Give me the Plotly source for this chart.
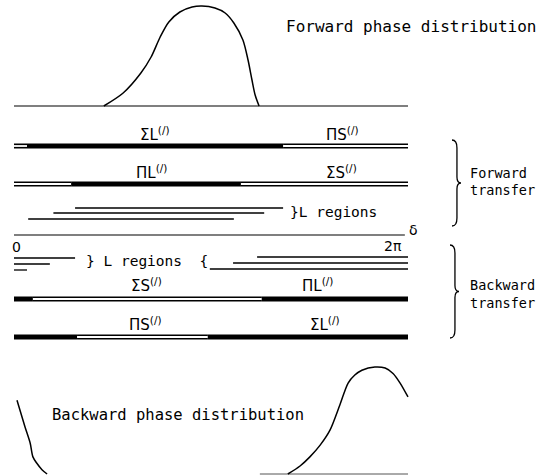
import numpy as np
import plotly.graph_objects as go

# ---------------- data (phase as fraction of 2*pi) ----------------
fwd_phase = [0.228, 0.277, 0.322, 0.348, 0.371, 0.393, 0.421, 0.452, 0.477,
             0.510, 0.536, 0.558, 0.581, 0.594, 0.604, 0.612, 0.622]
fwd_height = [0.0, 0.13, 0.33, 0.49, 0.69, 0.84, 0.94, 0.99, 1.0,
              0.98, 0.93, 0.83, 0.66, 0.46, 0.26, 0.11, 0.0]

bwd_left_phase = [0.0076, 0.028, 0.041, 0.048, 0.058, 0.071, 0.084]
bwd_left_height = [0.69, 0.44, 0.29, 0.16, 0.10, 0.04, 0.0]
bwd_right_phase = [0.695, 0.726, 0.751, 0.777, 0.802, 0.827, 0.848, 0.865,
                   0.883, 0.916, 0.942, 0.962, 0.980, 1.0]
bwd_right_height = [0.0, 0.075, 0.16, 0.27, 0.41, 0.645, 0.85, 0.925,
                    0.97, 1.0, 0.99, 0.94, 0.85, 0.72]

# transfer rows: boundaries and style of each segment ("full" / "hollow")
row_bounds = [
    [0.0, 0.033, 0.683, 1.0],   # Sigma L / Pi S  (forward)
    [0.0, 0.145, 0.576, 1.0],   # Pi L / Sigma S  (forward)
    [0.0, 0.048, 0.629, 1.0],   # Sigma S / Pi L  (backward)
    [0.0, 0.160, 0.492, 1.0],   # Pi S / Sigma L  (backward)
]
row_styles = [
    ["hollow", "full", "hollow"],
    ["hollow", "full", "hollow"],
    ["full", "hollow", "full"],
    ["full", "hollow", "full"],
]
row_left_labels = ["ΣL<sup>(/)</sup>", "ΠL<sup>(/)</sup>", "ΣS<sup>(/)</sup>", "ΠS<sup>(/)</sup>"]
row_right_labels = ["ΠS<sup>(/)</sup>", "ΣS<sup>(/)</sup>", "ΠL<sup>(/)</sup>", "ΣL<sup>(/)</sup>"]
label_phase_left = [0.358, 0.350, 0.337, 0.335]
label_phase_right = [0.835, 0.830, 0.770, 0.790]

# L regions (start, end) in phase fraction
fwd_L_regions = [(0.155, 0.683), (0.100, 0.635), (0.036, 0.558)]
bwd_L_left = [(0.0, 0.155), (0.0, 0.091), (0.0, 0.033)]
bwd_L_right = [(0.617, 1.0), (0.556, 1.0), (0.497, 1.0)]
delta_line = (0.0, 0.992)
bottom_base = (0.624, 1.0)

# ---------------- layout constants (pixels) ----------------
W, H = 552, 475
X0, X1 = 14, 408
TWO_PI = 2 * np.pi
k = (X1 - X0) / TWO_PI
Y_TOP_BASE = 106
FWD_AMP = 100
Y_BOT_BASE = 474
BWD_AMP = 107
ROW_Y = [146, 184, 299, 337]
LABEL_DY = [-12, -12, -14, -13]
FWD_L_Y = [208, 213, 219]
BWD_L_Y_LEFT = [258, 264, 270]
BWD_L_Y_RIGHT = [257, 263, 269]
DELTA_Y = 235

MONO = "DejaVu Sans Mono"
SANS = "DejaVu Sans"

fig = go.Figure()


def ph(v):
    return [p * TWO_PI for p in v]


def line(xs, ys, width=1.2, color="black", dash=None):
    fig.add_trace(go.Scatter(x=xs, y=ys, mode="lines",
                             line=dict(color=color, width=width, dash=dash),
                             hoverinfo="skip", showlegend=False))


# forward distribution
line(ph([0, 1]), [Y_TOP_BASE, Y_TOP_BASE], width=1.1)
fig.add_trace(go.Scatter(x=ph(fwd_phase), y=[Y_TOP_BASE - h * FWD_AMP for h in fwd_height],
                         mode="lines", line=dict(color="black", width=1.5, shape="spline", smoothing=0.8),
                         hoverinfo="skip", showlegend=False))

# backward distribution
line(ph(list(bottom_base)), [Y_BOT_BASE, Y_BOT_BASE], width=1.0, color="#555")
for pxs, hs in [(bwd_left_phase, bwd_left_height), (bwd_right_phase, bwd_right_height)]:
    fig.add_trace(go.Scatter(x=ph(pxs), y=[Y_BOT_BASE - h * BWD_AMP for h in hs],
                             mode="lines", line=dict(color="black", width=1.5, shape="spline", smoothing=0.8),
                             hoverinfo="skip", showlegend=False))

# rows
for r, (bounds, styles) in enumerate(zip(row_bounds, row_styles)):
    y = ROW_Y[r]
    for i, st in enumerate(styles):
        xs = ph([bounds[i], bounds[i + 1]])
        line(xs, [y, y], width=5)
        if st == "hollow":
            line(xs, [y, y], width=1.8, color="white")

# L regions
for (a, b), y in zip(fwd_L_regions, FWD_L_Y):
    line(ph([a, b]), [y, y], width=1.3)
for (a, b), y in zip(bwd_L_left, BWD_L_Y_LEFT):
    line(ph([a, b]), [y, y], width=1.3)
for (a, b), y in zip(bwd_L_right, BWD_L_Y_RIGHT):
    line(ph([a, b]), [y, y], width=1.3)
line(ph(list(delta_line)), [DELTA_Y, DELTA_Y], width=1.2)

ann = []


def text(x, y, s, size=14, xanchor="center", font=MONO):
    ann.append(dict(x=x, y=y, xref="x", yref="y", text=s, showarrow=False,
                    xanchor=xanchor, yanchor="middle",
                    font=dict(family=font, size=size, color="black")))


for r in range(4):
    y = ROW_Y[r] + LABEL_DY[r]
    text(label_phase_left[r] * TWO_PI, y, row_left_labels[r], size=15, font=SANS)
    text(label_phase_right[r] * TWO_PI, y, row_right_labels[r], size=15, font=SANS)


def px2x(p):
    return (p - X0) / k


text(px2x(284), 26, "Forward phase distribution", size=16, xanchor="left")
text(px2x(50), 415, "Backward phase distribution", size=15.5, xanchor="left")
text(px2x(288), 212, "}L regions", size=14.5, xanchor="left")
text(px2x(84), 261, "} L regions  {", size=14.5, xanchor="left")
text(px2x(16), 247, "0", size=14, font=SANS)
text(px2x(393), 246, "2π", size=14, font=SANS)
text(px2x(413), 230, "δ", size=14, font=SANS)
text(px2x(468), 173, "Forward", size=13.5, xanchor="left")
text(px2x(468), 190, "transfer", size=13.5, xanchor="left")
text(px2x(468), 285, "Backward", size=13.5, xanchor="left")
text(px2x(468), 303, "transfer", size=13.5, xanchor="left")


# braces as paths (pixel -> paper)
def brace_path(x, top, bottom, w=9):
    mid = (top + bottom) / 2
    def P(px, py):
        return f"{px / W:.5f},{1 - py / H:.5f}"
    xm = x + w * 0.55
    return (f"M {P(x, top)} Q {P(xm, top)} {P(xm, top + 8)} "
            f"L {P(xm, mid - 6)} Q {P(xm, mid)} {P(x + w, mid)} "
            f"Q {P(xm, mid)} {P(xm, mid + 6)} "
            f"L {P(xm, bottom - 8)} Q {P(xm, bottom)} {P(x, bottom)}")


shapes = [
    dict(type="path", xref="paper", yref="paper", path=brace_path(452, 140, 226),
         line=dict(color="black", width=1.3)),
    dict(type="path", xref="paper", yref="paper", path=brace_path(450, 245, 338),
         line=dict(color="black", width=1.3)),
]

fig.update_layout(
    width=W, height=H, autosize=False,
    margin=dict(l=0, r=0, t=0, b=0),
    paper_bgcolor="white", plot_bgcolor="white",
    xaxis=dict(range=[-X0 / k, (W - X0) / k], visible=False, fixedrange=True),
    yaxis=dict(range=[H, 0], visible=False, fixedrange=True),
    annotations=ann, shapes=shapes, showlegend=False,
)

fig.write_html("out.html")
